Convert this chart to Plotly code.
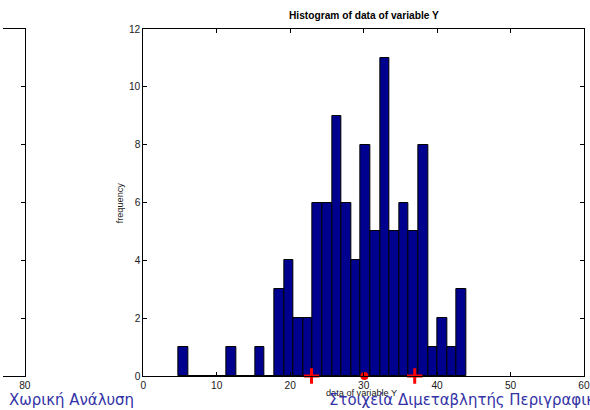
import plotly.graph_objects as go

# ---- data ----
bin_start = 4.76
bin_width = 1.307
counts = [1, 0, 0, 0, 0, 1, 0, 0, 1, 0, 3, 4, 2, 2, 6, 6, 9, 6, 4, 8, 5, 11, 5, 6, 5, 8, 1, 2, 1, 3]
plus_x = [22.9, 36.95]
circle_x = [30.1]
x_ticks = [0, 10, 20, 30, 40, 50, 60]
y_ticks = [0, 2, 4, 6, 8, 10, 12]
title_text = "Histogram of data of variable Y"
xlabel_text = "data of variable Y"
ylabel_text = "frequency"
footer_left = "Χωρική Ανάλυση"
footer_right = "Στοιχεία Διμεταβλητής Περιγραφικής Στατιστικής"

W, H = 590, 410
# the photographed page shows the figure slightly shrunk with a small white border;
# map the wanted picture pixel to the figure pixel
SX, SY, OX, OY = 0.983, 0.976, 4.9, 4.9


def px(x):
    q = (x - OX) / SX
    return min(max(q / W, 0.0), 1.0)


def py(y):
    q = (y - OY) / SY
    return min(max(1 - q / H, 0.0), 1.0)


FS = 1 / 0.98  # font compensation

centers = [bin_start + bin_width * (k + 0.5) for k in range(len(counts))]

fig = go.Figure()
fig.add_trace(go.Bar(
    x=centers, y=counts, width=bin_width,
    marker=dict(color="#00008F", line=dict(color="black", width=1)),
    xaxis="x", yaxis="y", showlegend=False,
))
fig.add_trace(go.Scatter(
    x=plus_x, y=[0] * len(plus_x), mode="markers",
    marker=dict(symbol="cross-thin", size=11, line=dict(color="#FF0000", width=3)),
    cliponaxis=False, showlegend=False, xaxis="x", yaxis="y",
))
fig.add_trace(go.Scatter(
    x=circle_x, y=[0] * len(circle_x), mode="markers",
    marker=dict(symbol="circle", size=8, color="#FF0000"),
    cliponaxis=False, showlegend=False, xaxis="x", yaxis="y",
))
# invisible trace for the partial left axes
fig.add_trace(go.Scatter(x=[80], y=[0], mode="markers", marker=dict(opacity=0),
                         xaxis="x2", yaxis="y2", showlegend=False, hoverinfo="skip"))

tickfont = dict(family="Liberation Sans, Arial, sans-serif", size=10 * FS, color="#1a1a1a")
axis_common = dict(showline=True, linecolor="black", linewidth=1, ticks="inside",
                   ticklen=4, tickcolor="black", showgrid=False, zeroline=False,
                   tickfont=tickfont)

fig.update_layout(
    width=W, height=H, margin=dict(l=0, r=0, t=0, b=0),
    paper_bgcolor="white", plot_bgcolor="white", bargap=0,
    xaxis=dict(domain=[px(145), px(586)], range=[0, 60], tickvals=x_ticks,
               mirror="ticks", anchor="y", **axis_common),
    yaxis=dict(domain=[py(377), py(29)], range=[0, 12], tickvals=y_ticks,
               mirror="ticks", anchor="x", **axis_common),
    xaxis2=dict(domain=[0, px(26.7)], range=[76, 80], tickvals=[80],
                mirror=True, anchor="y2", **axis_common),
    yaxis2=dict(domain=[py(377), py(29)], range=[0, 12], tickvals=y_ticks,
                side="right", mirror=False, anchor="x2", showticklabels=False,
                **{k: v for k, v in axis_common.items() if k != "tickfont"}),
    annotations=[
        dict(text="<b>" + title_text + "</b>", x=px(365), y=py(15), xref="paper", yref="paper",
             showarrow=False, xanchor="center", yanchor="middle",
             font=dict(family="Liberation Sans, Arial, sans-serif", size=10 * FS, color="black")),
        dict(text=xlabel_text, x=px(363), y=py(394), xref="paper", yref="paper",
             showarrow=False, xanchor="center", yanchor="middle",
             font=dict(family="Liberation Sans, Arial, sans-serif", size=9 * FS, color="#1a1a1a")),
        dict(text=ylabel_text, x=px(121.5), y=py(203), xref="paper", yref="paper",
             showarrow=False, xanchor="center", yanchor="middle", textangle=-90,
             font=dict(family="Liberation Sans, Arial, sans-serif", size=9 * FS, color="#1a1a1a")),
        dict(text=footer_left, x=px(10), y=py(401), xref="paper", yref="paper",
             showarrow=False, xanchor="left", yanchor="middle", borderpad=0,
             font=dict(family="DejaVu Sans Condensed, DejaVu Sans, sans-serif", size=16.6, color="#3232A6")),
        dict(text=footer_right, x=px(329), y=py(401), xref="paper", yref="paper",
             showarrow=False, xanchor="left", yanchor="middle", align="left",
             width=266, height=21, borderpad=0,
             font=dict(family="DejaVu Sans Condensed, DejaVu Sans, sans-serif", size=16.6, color="#3232A6")),
    ],
)

fig.write_html("out.html",
               post_script="document.body.style.margin='0';document.body.style.overflow='hidden';")
